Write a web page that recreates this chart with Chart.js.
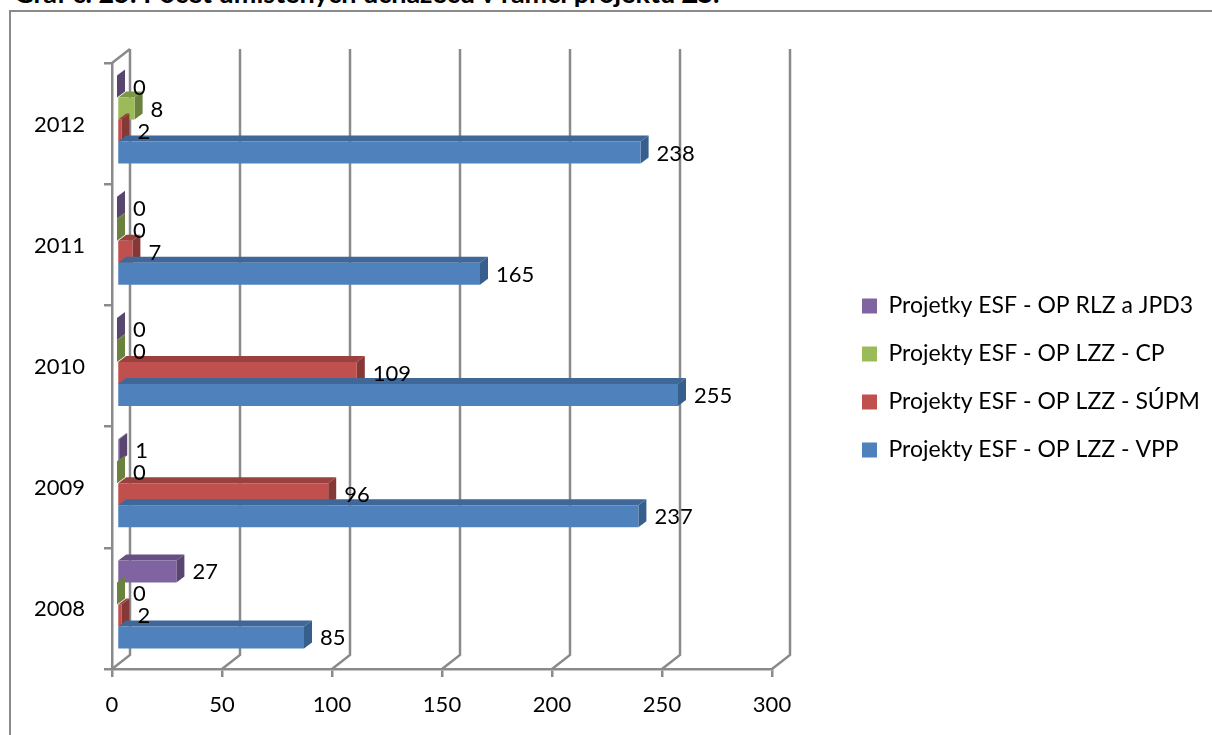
<!DOCTYPE html>
<html>
<head>
    <meta charset="UTF-8">
    <title>Graf</title>
    <script src="https://cdn.jsdelivr.net/npm/chart.js"></script>
    <style>
        html, body { margin: 0; padding: 0; background: #fff; overflow: hidden; }
        #wrap { position: relative; width: 1212px; height: 735px; overflow: hidden; }
        #graf { position: absolute; left: 0; top: 0; }
        /* ramecek grafu */
        #frame { position: absolute; left: 9px; top: 10px; width: 1300px; height: 800px; border: 2px solid #8a8a8a; }
        #nadpis { position: absolute; left: 14px; top: -24px; font: bold 27px Lato, sans-serif; color: #000; white-space: nowrap; }
    </style>
</head>
<body>
<div id="wrap">
    <div id="nadpis">Graf č. 25: Počet umístěných uchazečů v rámci projektu ZS.</div>
    <div id="frame"></div>
    <canvas id="graf" width="1212" height="735"></canvas>
</div>
<script>
    // data
    const years = ['2008', '2009', '2010', '2011', '2012'];
    const vpp = [85, 237, 255, 165, 238];
    const supm = [2, 96, 109, 7, 2];
    const cp = [0, 0, 0, 0, 8];
    const rlz = [27, 1, 0, 0, 0];
    const xTicks = [0, 50, 100, 150, 200, 250, 300];

    const faces = {
        '#4F81BD': ['#3F6797', '#375F8E'],
        '#C0504D': ['#9A403E', '#853836'],
        '#9BBB59': ['#7C9647', '#6B823E'],
        '#8064A2': ['#665082', '#584570']
    };
    const fontFamily = 'Lato, sans-serif';
    const fontSize = 22;
    const lineCol = '#8a8a8a';

    // posun sloupcu oproti ose a hloubka 3D
    const barShiftX = 5, barShiftY = -4, depthX = 8, depthY = 6;
    const wallX = 18, wallY = 14;

    function drawFaces(ctx, col, bar) {
        const top = bar.y - bar.height / 2, bottom = bar.y + bar.height / 2;
        // horni plocha
        ctx.fillStyle = faces[col][0];
        ctx.beginPath();
        ctx.moveTo(bar.base, top);
        ctx.lineTo(bar.base + depthX, top - depthY);
        ctx.lineTo(bar.x + depthX, top - depthY);
        ctx.lineTo(bar.x, top);
        ctx.fill();
        // bocni plocha
        ctx.fillStyle = faces[col][1];
        ctx.beginPath();
        ctx.moveTo(bar.x, top);
        ctx.lineTo(bar.x + depthX, top - depthY);
        ctx.lineTo(bar.x + depthX, bottom - depthY);
        ctx.lineTo(bar.x, bottom);
        ctx.fill();
    }

    const wall3d = {
        id: 'wall3d',
        beforeInit(chart) {
            const fit = chart.legend.fit;
            chart.legend.fit = function () {
                fit.call(this);
                this.width = 440;
            };
        },
        afterLayout(chart) {
            chart.legend.left = 837;
            chart.legend.top -= 21;
            chart.legend.bottom -= 21;
        },
        beforeDatasetsDraw(chart) {
            const ctx = chart.ctx, area = chart.chartArea, x = chart.scales.x;
            ctx.save();
            ctx.strokeStyle = lineCol;
            ctx.lineWidth = 2.5;
            ctx.beginPath();
            xTicks.forEach(function (v) {
                const px = x.getPixelForValue(v);
                ctx.moveTo(px, area.bottom);
                ctx.lineTo(px + wallX, area.bottom - wallY);
                ctx.lineTo(px + wallX, area.top - wallY);
            });
            ctx.moveTo(area.left, area.top);
            ctx.lineTo(area.left + wallX, area.top - wallY);
            ctx.stroke();
            ctx.restore();

            // sloupce odshora dolu, aby spodni prekryl horni
            chart.data.datasets.forEach(function (ds, i) {
                const meta = chart.getDatasetMeta(i);
                ctx.save();
                ctx.translate(barShiftX, barShiftY);
                meta.data.forEach(function (bar) { drawFaces(ctx, ds.backgroundColor, bar); });
                meta.controller.draw();
                ctx.restore();
            });

            ctx.save();
            ctx.fillStyle = '#000';
            ctx.font = fontSize + 'px ' + fontFamily;
            ctx.textAlign = 'left';
            ctx.textBaseline = 'middle';
            chart.data.datasets.forEach(function (ds, i) {
                chart.getDatasetMeta(i).data.forEach(function (bar, j) {
                    ctx.fillText(ds.data[j], bar.x + barShiftX + 16, bar.y + barShiftY + 1);
                });
            });
            ctx.restore();
            return false;
        }
    };

    new Chart(document.getElementById('graf'), {
        type: 'bar',
        data: {
            labels: years,
            datasets: [
                { label: 'Projetky ESF - OP RLZ a JPD3', data: rlz, backgroundColor: '#8064A2' },
                { label: 'Projekty ESF - OP LZZ - CP', data: cp, backgroundColor: '#9BBB59' },
                { label: 'Projekty ESF - OP LZZ - SÚPM', data: supm, backgroundColor: '#C0504D' },
                { label: 'Projekty ESF - OP LZZ - VPP', data: vpp, backgroundColor: '#4F81BD' }
            ]
        },
        plugins: [wall3d],
        options: {
            indexAxis: 'y',
            responsive: false,
            animation: false,
            categoryPercentage: 0.726,
            barPercentage: 1,
            layout: { padding: { top: 63, right: 0, left: 0, bottom: 0 } },
            scales: {
                x: {
                    min: 0,
                    max: 300,
                    afterFit(s) { s.height = 66; },
                    afterBuildTicks(s) { s.ticks = xTicks.map(function (v) { return { value: v }; }); },
                    grid: { drawOnChartArea: false, color: lineCol, lineWidth: 2.5, tickLength: 8 },
                    border: { color: lineCol, width: 2.5 },
                    ticks: { color: '#000', font: { family: fontFamily, size: fontSize }, padding: 15, maxRotation: 0 }
                },
                y: {
                    reverse: true,
                    afterFit(s) { s.width = 112; },
                    grid: { drawOnChartArea: false, color: lineCol, lineWidth: 2.5, tickLength: 8 },
                    border: { color: lineCol, width: 2.5 },
                    ticks: { color: '#000', font: { family: fontFamily, size: fontSize }, padding: 19, labelOffset: 1 }
                }
            },
            plugins: {
                tooltip: { enabled: false },
                legend: {
                    position: 'right',
                    labels: {
                        boxWidth: 15,
                        boxHeight: 15,
                        padding: 25,
                        color: '#000',
                        font: { family: fontFamily, size: 23 }
                    }
                }
            }
        }
    });
</script>
</body>
</html>
